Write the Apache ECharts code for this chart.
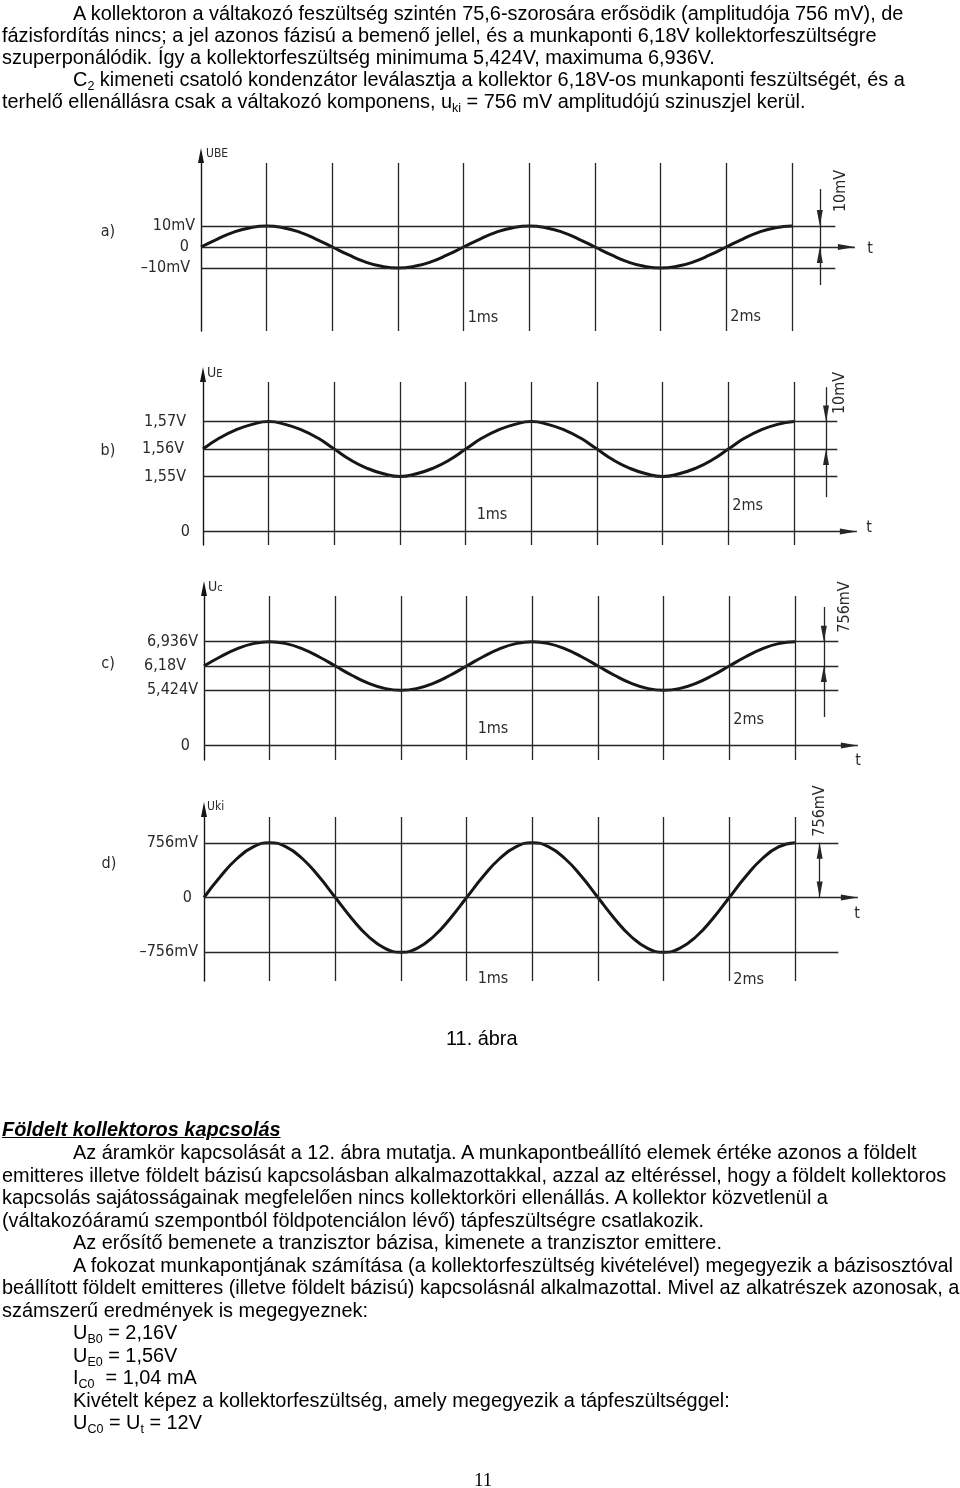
<!DOCTYPE html>
<html>
<head>
<meta charset="utf-8">
<script src="https://cdn.jsdelivr.net/npm/echarts@6/dist/echarts.min.js"></script>
<style>
html,body{margin:0;padding:0;background:#fff;}
#page{position:relative;width:960px;height:1488px;overflow:hidden;background:#fff;}
#chart{position:absolute;left:0;top:0;width:960px;height:1488px;}
.ln{position:absolute;white-space:nowrap;font-family:"Liberation Sans",Arial,sans-serif;font-size:19.9px;line-height:22px;color:#000;}
.ln sub{font-size:12.5px;vertical-align:-4px;line-height:0;}
.hd{font-weight:bold;font-style:italic;text-decoration:underline;}
.pg{font-family:"Liberation Serif","Times New Roman",serif;font-size:19px;}
</style>
</head>
<body>
<div id="page"><div id="chart"></div></div>
<script>
// ---------------- DATA ----------------
// time axis in ms, sampled every 1/16 ms
const TIME_MS = [0,0.0625,0.125,0.1875,0.25,0.3125,0.375,0.4375,0.5,0.5625,0.625,0.6875,0.75,0.8125,0.875,0.9375,
  1,1.0625,1.125,1.1875,1.25,1.3125,1.375,1.4375,1.5,1.5625,1.625,1.6875,1.75,1.8125,1.875,1.9375,
  2,2.0625,2.125,2.1875,2.25];
// a) U_BE in mV
const U_BE_mV = [0,3.8,7.1,9.2,10,9.2,7.1,3.8,0,-3.8,-7.1,-9.2,-10,-9.2,-7.1,-3.8,
  0,3.8,7.1,9.2,10,9.2,7.1,3.8,0,-3.8,-7.1,-9.2,-10,-9.2,-7.1,-3.8,
  0,3.8,7.1,9.2,10];
// b) U_E in V
const U_E_V = [1.560,1.564,1.567,1.569,1.570,1.569,1.567,1.564,1.560,1.556,1.553,1.551,1.550,1.551,1.553,1.556,
  1.560,1.564,1.567,1.569,1.570,1.569,1.567,1.564,1.560,1.556,1.553,1.551,1.550,1.551,1.553,1.556,
  1.560,1.564,1.567,1.569,1.570];
// c) U_C in V
const U_C_V = [6.180,6.469,6.715,6.878,6.936,6.878,6.715,6.469,6.180,5.891,5.645,5.482,5.424,5.482,5.645,5.891,
  6.180,6.469,6.715,6.878,6.936,6.878,6.715,6.469,6.180,5.891,5.645,5.482,5.424,5.482,5.645,5.891,
  6.180,6.469,6.715,6.878,6.936];
// d) u_ki in mV
const U_KI_mV = [0,289,535,698,756,698,535,289,0,-289,-535,-698,-756,-698,-535,-289,
  0,289,535,698,756,698,535,289,0,-289,-535,-698,-756,-698,-535,-289,
  0,289,535,698,756];

// vertical grid lines (ms) and time tick labels
const GRID_TIMES_MS = [0.25,0.5,0.75,1,1.25,1.5,1.75,2,2.25];
const TIME_TICK_VALUES = [1, 2];
const TIME_TICK_LABELS = ['1ms', '2ms'];

// level lines and their labels
const LEVELS_A = [10, -10];            const LEVEL_LABELS_A = ['10mV', '\u201310mV'];
const LEVELS_B = [1.57, 1.56, 1.55];   const LEVEL_LABELS_B = ['1,57V', '1,56V', '1,55V'];
const LEVELS_C = [6.936, 6.18, 5.424]; const LEVEL_LABELS_C = ['6,936V', '6,18V', '5,424V'];
const LEVELS_D = [756, -756];          const LEVEL_LABELS_D = ['756mV', '\u2013756mV'];
const MID_LEVELS = [0, 1.56, 6.18, 0];
const BASE_LABEL = '0';
const AXIS_NAMES = [['UBE',''], ['U','E'], ['U','c'], ['Uki','']];
const PANEL_LETTERS = ['a)', 'b)', 'c)', 'd)'];
const AMPLITUDE_LABELS = ['10mV', '10mV', '756mV', '756mV'];
const T_LABEL = 't';

// ---------------- LAYOUT / STYLE ----------------
const XMAX = 2.49, GRID_W = 654, LEVEL_END = 2.415;
const FIG_FONT = '"DejaVu Sans Condensed","DejaVu Sans",sans-serif';
const INK = '#161616', GRID_INK = '#262626', TXT = '#2a2a2a';
const PANELS = [
  { values: U_BE_mV, levels: LEVELS_A, labels: LEVEL_LABELS_A, left: 201, top: 163, height: 168, yMin: -40, yMax: 40,
    base: 0, baseGap: 12, baseDy: 0, gaps: [6, 11], dys: [-1, 9],
    dim: { x: 2.356, top: 27.6, bottom: -18.1, split: true }, ampPos: [841, 191],
    letterPos: [108, 232], tPos: [870, 249], namePos: [206, 154], tickY: [318, 317], tickDx: [4, 4] },
  { values: U_E_V, levels: LEVELS_B, labels: LEVEL_LABELS_B, left: 203, top: 382, height: 163, yMin: 1.5251, yMax: 1.5844,
    base: 1.53, baseGap: 13, baseDy: 0, gaps: [17, 19, 17], dys: [3, 2, 4],
    dim: { x: 2.372, top: 1.5825, bottom: 1.5425, split: true }, ampPos: [840, 393],
    letterPos: [108, 451], tPos: [869, 528], namePos: [207, 373], tickY: [515, 506], tickDx: [11, 4] },
  { values: U_C_V, levels: LEVELS_C, labels: LEVEL_LABELS_C, left: 204, top: 596, height: 164, yMin: 3.25, yMax: 8.362,
    base: 3.702, baseGap: 14, baseDy: 4, gaps: [6, 18, 6], dys: [0, 1, 7],
    dim: { x: 2.36, top: 8.019, bottom: 4.59, split: true }, ampPos: [845, 607],
    letterPos: [108, 664], tPos: [858, 761], namePos: [208, 587], tickY: [729, 720], tickDx: [11, 4] },
  { values: U_KI_mV, levels: LEVELS_D, labels: LEVEL_LABELS_D, left: 204, top: 817, height: 164, yMin: -1153, yMax: 1111.6,
    base: 0, baseGap: 12, baseDy: 0, gaps: [6, 6], dys: [3, 8],
    dim: { x: 2.344, split: false }, ampPos: [820, 811],
    letterPos: [109, 864], tPos: [857, 914], namePos: [207, 807], tickY: [979, 980], tickDx: [11, 4] }
];

function labelStyle(text, gap, dy) {
  return { show: true, position: 'start', formatter: text, distance: gap, color: TXT,
    fontFamily: FIG_FONT, fontSize: 16,
    padding: dy >= 0 ? [2 * dy, 0, 0, 0] : [0, 0, -2 * dy, 0] };
}
const ARROW = { symbol: 'triangle', symbolSize: [6, 16], symbolOffset: [0, '50%'] };

function markLines(p, i) {
  const data = [];
  GRID_TIMES_MS.forEach(t => data.push({ xAxis: t }));
  p.levels.forEach((v, k) => {
    if (v === p.base) return;
    data.push([{ coord: [0, v], label: labelStyle(p.labels[k], p.gaps[k], p.dys[k]) }, { coord: [LEVEL_END, v] }]);
  });
  // baseline / time axis with arrow
  data.push([{ coord: [0, p.base], label: labelStyle(BASE_LABEL, p.baseGap, p.baseDy) },
             Object.assign({ coord: [XMAX - 0.0005, p.base] }, ARROW, { symbolSize: [6, 17] })]);
  // amplitude dimension marker
  const d = p.dim, hi = p.levels[0], mid = MID_LEVELS[i];
  if (d.split) {
    data.push([{ coord: [d.x, d.top] }, Object.assign({ coord: [d.x, hi] }, ARROW)]);
    data.push([{ coord: [d.x, hi] }, { coord: [d.x, mid] }]);
    data.push([{ coord: [d.x, d.bottom] }, Object.assign({ coord: [d.x, mid] }, ARROW)]);
  } else {
    data.push([Object.assign({ coord: [d.x, hi] }, ARROW), Object.assign({ coord: [d.x, mid] }, ARROW)]);
  }
  return {
    silent: true, animation: false, symbol: 'none', precision: 6,
    lineStyle: { color: GRID_INK, width: 1.3, type: 'solid' },
    itemStyle: { color: INK },
    label: { show: false },
    emphasis: { disabled: true },
    data
  };
}

const chart = echarts.init(document.getElementById('chart'), null, { renderer: 'canvas' });
chart.setOption({
  animation: false,
  grid: PANELS.map(p => ({ left: p.left, top: p.top, width: GRID_W, height: p.height })),
  xAxis: PANELS.map((p, i) => ({ type: 'value', gridIndex: i, min: 0, max: XMAX, show: false })),
  yAxis: PANELS.map((p, i) => ({
    type: 'value', gridIndex: i, min: p.yMin, max: p.yMax,
    axisLine: { show: true, onZero: false, symbol: ['none', 'triangle'], symbolSize: [6, 15], symbolOffset: [0, 7.5],
      lineStyle: { color: INK, width: 1.4 } },
    axisTick: { show: false }, axisLabel: { show: false }, splitLine: { show: false }
  })),
  series: PANELS.map((p, i) => ({
    type: 'line', xAxisIndex: i, yAxisIndex: i, smooth: 0.5, symbol: 'none', z: 3,
    lineStyle: { color: INK, width: 3 },
    data: TIME_MS.map((t, k) => [t, p.values[k]]),
    markLine: markLines(p, i)
  }))
});

// ---------- figure annotations ----------
const g = [];
function txt(x, y, text, extra) {
  g.push(Object.assign({ type: 'text', x, y, silent: true,
    style: Object.assign({ text, fill: TXT, font: '16px ' + FIG_FONT, align: 'center', verticalAlign: 'middle' }, extra || {}) }));
}
PANELS.forEach((p, i) => {
  txt(p.letterPos[0], p.letterPos[1], PANEL_LETTERS[i]);
  txt(p.tPos[0], p.tPos[1], T_LABEL);
  TIME_TICK_VALUES.forEach((t, k) => {
    const px = chart.convertToPixel({ gridIndex: i }, [t, p.base]);
    txt(px[0] + p.tickDx[k], p.tickY[k], TIME_TICK_LABELS[k], { align: 'left' });
  });
  const nm = AXIS_NAMES[i];
  g.push({ type: 'text', x: p.namePos[0], y: p.namePos[1], silent: true,
    style: { text: '{u|' + nm[0] + '}' + (nm[1] ? '{s|' + nm[1] + '}' : ''), align: 'left', verticalAlign: 'middle',
      rich: { u: { fontSize: i === 0 || i === 3 ? 12 : 14, fontFamily: FIG_FONT, fill: TXT, verticalAlign: 'bottom' },
              s: { fontSize: 11, fontFamily: FIG_FONT, fill: TXT, verticalAlign: 'bottom' } } } });
  g.push({ type: 'text', x: p.ampPos[0], y: p.ampPos[1], rotation: Math.PI / 2, silent: true,
    style: { text: AMPLITUDE_LABELS[i], fill: TXT, font: '16px ' + FIG_FONT, align: 'center', verticalAlign: 'middle' } });
});
chart.setOption({ graphic: g });

// ---------- page text ----------
const IND = 73, L0 = 2;
const LINES = [
  [IND, 13, 'A kollektoron a váltakozó feszültség szintén 75,6-szorosára erősödik (amplitudója 756 mV), de'],
  [L0, 35, 'fázisfordítás nincs; a jel azonos fázisú a bemenő jellel, és a munkaponti 6,18V kollektorfeszültségre'],
  [L0, 57, 'szuperponálódik. Így a kollektorfeszültség minimuma 5,424V, maximuma 6,936V.'],
  [IND, 79, 'C<sub>2</sub> kimeneti csatoló kondenzátor leválasztja a kollektor 6,18V-os munkaponti feszültségét, és a'],
  [L0, 101, 'terhelő ellenállásra csak a váltakozó komponens, u<sub>ki</sub> = 756 mV amplitudójú szinuszjel kerül.'],
  [-1, 1038, '11. ábra'],
  [L0, 1129, 'Földelt kollektoros kapcsolás', 'hd'],
  [IND, 1152, 'Az áramkör kapcsolását a 12. ábra mutatja. A munkapontbeállító elemek értéke azonos a földelt'],
  [L0, 1174.5, 'emitteres illetve földelt bázisú kapcsolásban alkalmazottakkal, azzal az eltéréssel, hogy a földelt kollektoros'],
  [L0, 1197, 'kapcsolás sajátosságainak megfelelően nincs kollektorköri ellenállás. A kollektor közvetlenül a'],
  [L0, 1219.5, '(váltakozóáramú szempontból földpotenciálon lévő) tápfeszültségre csatlakozik.'],
  [IND, 1242, 'Az erősítő bemenete a tranzisztor bázisa, kimenete a tranzisztor emittere.'],
  [IND, 1264.5, 'A fokozat munkapontjának számítása (a kollektorfeszültség kivételével) megegyezik a bázisosztóval'],
  [L0, 1287, 'beállított földelt emitteres (illetve földelt bázisú) kapcsolásnál alkalmazottal. Mivel az alkatrészek azonosak, a'],
  [L0, 1309.5, 'számszerű eredmények is megegyeznek:'],
  [IND, 1332, 'U<sub>B0</sub> = 2,16V'],
  [IND, 1354.5, 'U<sub>E0</sub> = 1,56V'],
  [IND, 1377, 'I<sub>C0</sub>&nbsp; = 1,04 mA'],
  [IND, 1399.5, 'Kivételt képez a kollektorfeszültség, amely megegyezik a tápfeszültséggel:'],
  [IND, 1422, 'U<sub>C0</sub> = U<sub>t</sub> = 12V'],
  [-2, 1480, '11', 'pg']
];
const page = document.getElementById('page');
LINES.forEach(([x, y, html, cls]) => {
  const d = document.createElement('div');
  d.className = 'ln' + (cls ? ' ' + cls : '');
  d.innerHTML = html;
  d.style.top = (y - 11) + 'px';
  page.appendChild(d);
  if (x < 0) {
    const cx = x === -1 ? 482 : 483;
    d.style.left = (cx - d.offsetWidth / 2) + 'px';
  } else {
    d.style.left = x + 'px';
  }
});
</script>
</body>
</html>
